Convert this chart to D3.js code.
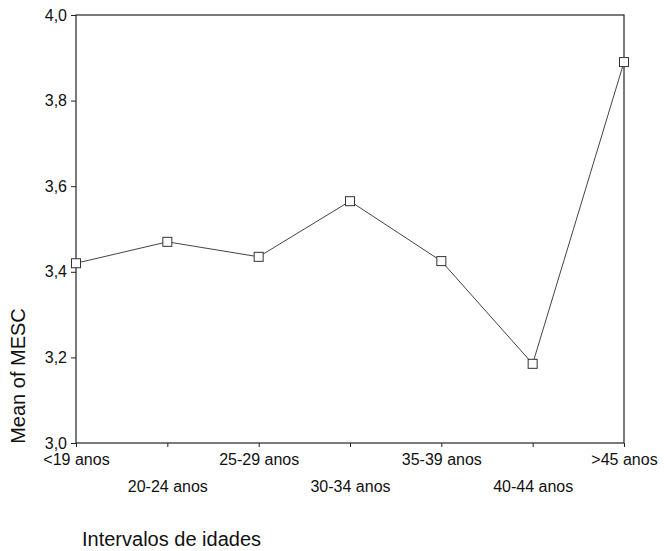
<!doctype html>
<html lang="en">
<head>
  <meta charset="utf-8">
  <title>Mean of MESC</title>
  <style>
    body { margin: 0; background: #fff; }
    svg text { font-family: "Liberation Sans", Arial, sans-serif; fill: #111; }
    .axis path, .axis line { stroke: #222; }
  </style>
</head>
<body>
  <div id="chart"></div>
  <script src="https://cdn.jsdelivr.net/npm/d3@7"></script>
  <script>
(function(){

  // data
  var ageGroups = ['<19 anos', '20-24 anos', '25-29 anos', '30-34 anos', '35-39 anos', '40-44 anos', '>45 anos'];
  var meanMESC = [3.42, 3.47, 3.435, 3.565, 3.425, 3.185, 3.89];
  var yTicks = [3.0, 3.2, 3.4, 3.6, 3.8, 4.0];

  var width = 664, height = 551;
  var left = 76, right = 624, top = 15, bottom = 443;

  var svg = d3.select('#chart').append('svg')
      .attr('width', width)
      .attr('height', height);

  var x = d3.scalePoint().domain(ageGroups).range([left, right]).padding(0);
  var y = d3.scaleLinear().domain([3, 4]).range([bottom, top]);

  var fmt = function(d){ return d3.format('.1f')(d).replace('.', ','); };

  // frame round the plot
  svg.append('rect')
      .attr('x', left).attr('y', top)
      .attr('width', right - left).attr('height', bottom - top)
      .attr('fill', 'none')
      .attr('stroke', '#222')
      .attr('stroke-width', 1.2);

  // y axis
  var yAxis = svg.append('g')
      .attr('class', 'axis')
      .attr('transform', 'translate(' + left + ',0)')
      .call(d3.axisLeft(y).tickValues(yTicks).tickFormat(fmt).tickSize(5).tickPadding(4));
  yAxis.select('.domain').remove();
  yAxis.selectAll('text').style('font-size', '16px');

  // x axis, labels staggered on two rows
  var xAxis = svg.append('g')
      .attr('class', 'axis')
      .attr('transform', 'translate(0,' + bottom + ')')
      .call(d3.axisBottom(x).tickSize(4).tickPadding(6));
  xAxis.select('.domain').remove();
  xAxis.selectAll('text')
      .style('font-size', '16px')
      .attr('y', function(d, i){ return i % 2 ? 38 : 11; });

  // line
  var line = d3.line()
      .x(function(d, i){ return x(ageGroups[i]); })
      .y(function(d){ return y(d); });

  svg.append('path')
      .datum(meanMESC)
      .attr('d', line)
      .attr('fill', 'none')
      .attr('stroke', '#444')
      .attr('stroke-width', 1);

  // open square markers
  svg.selectAll('.pt')
      .data(meanMESC)
    .enter().append('rect')
      .attr('class', 'pt')
      .attr('x', function(d, i){ return x(ageGroups[i]) - 4.5; })
      .attr('y', function(d){ return y(d) - 4.5; })
      .attr('width', 9).attr('height', 9)
      .attr('fill', '#fff')
      .attr('stroke', '#333')
      .attr('stroke-width', 1);

  // axis titles
  svg.append('text')
      .attr('transform', 'translate(25,' + 376 + ') rotate(-90)')
      .attr('text-anchor', 'middle')
      .style('font-size', '20px')
      .text('Mean of MESC');

  svg.append('text')
      .attr('x', 82).attr('y', 546)
      .style('font-size', '20px')
      .text('Intervalos de idades');

})();
  </script>
</body>
</html>
